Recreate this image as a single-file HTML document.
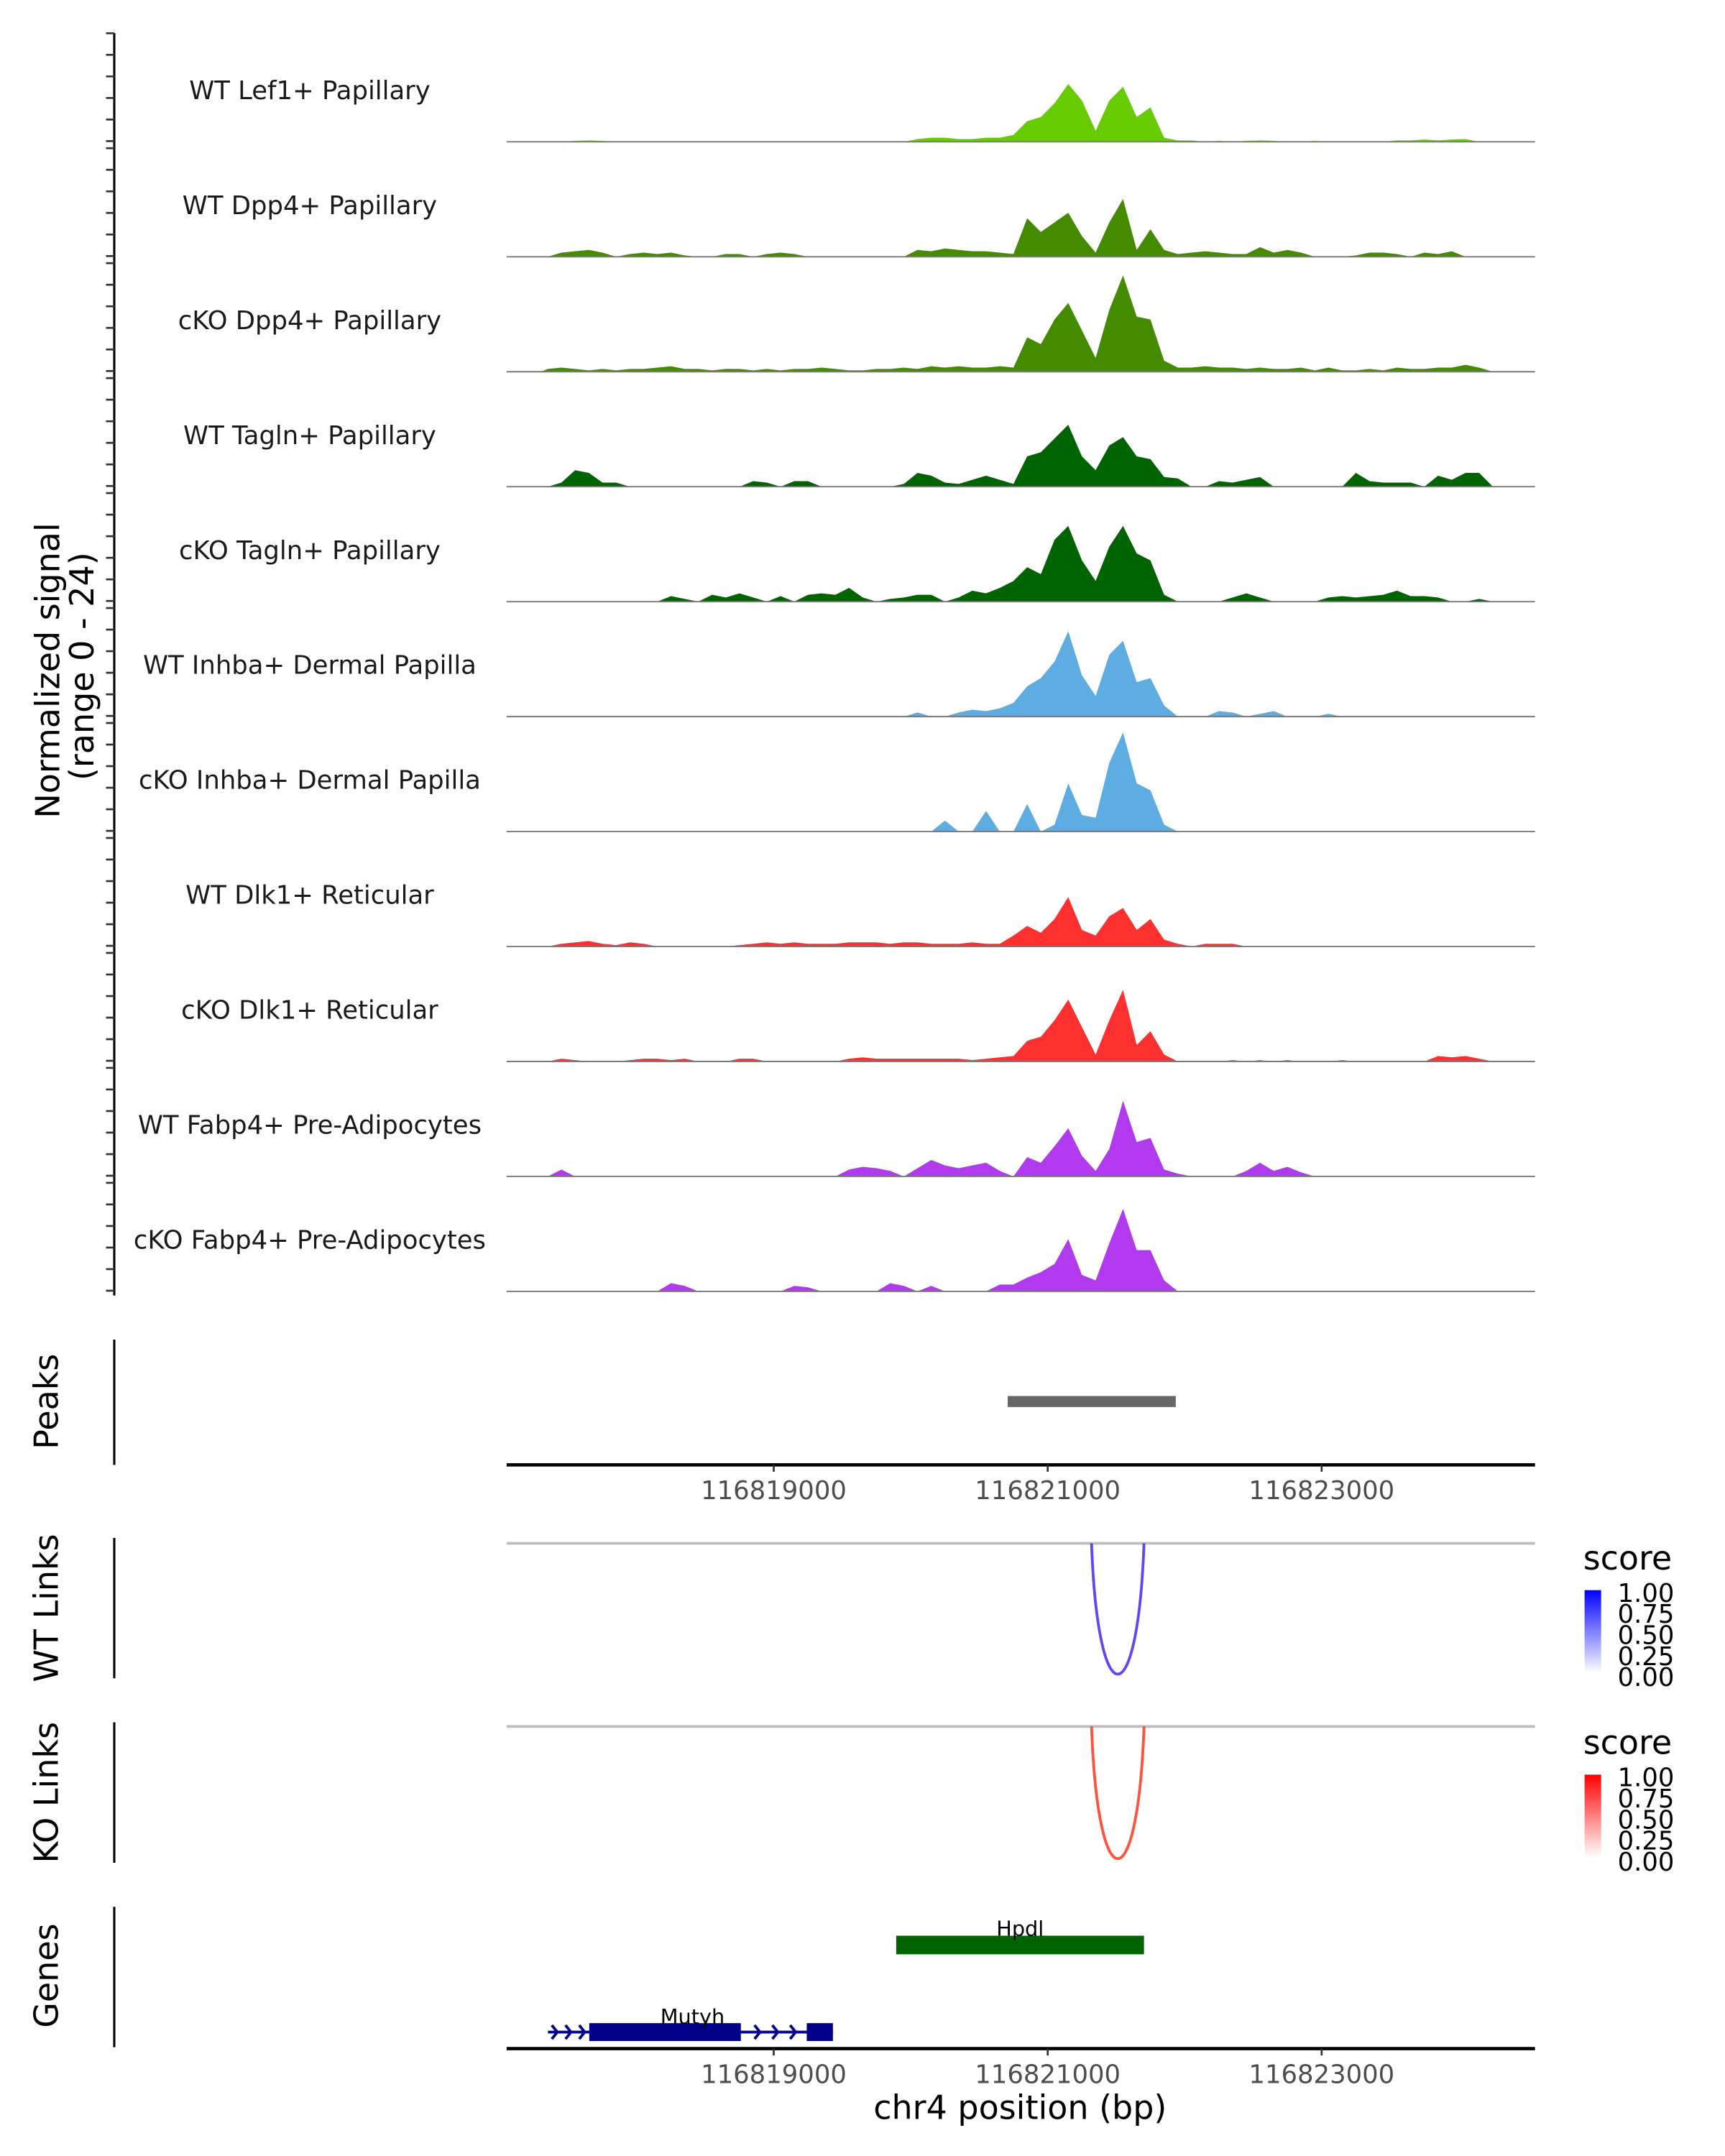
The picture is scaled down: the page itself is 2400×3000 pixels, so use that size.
<!DOCTYPE html>
<html>
<head>
<meta charset="utf-8">
<style>
html,body{margin:0;padding:0;background:#fff;}
svg{display:block;}
text{font-family:"DejaVu Sans","Liberation Sans",sans-serif;}
</style>
</head>
<body>
<svg id="chart" xmlns="http://www.w3.org/2000/svg" width="2400" height="3000" viewBox="0 0 1253 1566" preserveAspectRatio="none">
<defs>
<linearGradient id="gradWT" x1="0" y1="1" x2="0" y2="0"><stop offset="0" stop-color="#ffffff"/><stop offset="1" stop-color="#0000ff"/></linearGradient>
<linearGradient id="gradKO" x1="0" y1="1" x2="0" y2="0"><stop offset="0" stop-color="#ffffff"/><stop offset="1" stop-color="#ff0000"/></linearGradient>
</defs>
<g id="tracks"></g>
<g id="lower"></g>
</svg>
<script>
// ---- data ----
const binStart = 116817300;
const binSize = 100;
const trackNames = ["WT Lef1+ Papillary","WT Dpp4+ Papillary","cKO Dpp4+ Papillary","WT Tagln+ Papillary","cKO Tagln+ Papillary","WT Inhba+ Dermal Papilla","cKO Inhba+ Dermal Papilla","WT Dlk1+ Reticular","cKO Dlk1+ Reticular","WT Fabp4+ Pre-Adipocytes","cKO Fabp4+ Pre-Adipocytes"];
const trackColors = ["#66cc00","#458b00","#458b00","#006400","#006400","#5dade2","#5dade2","#ff3030","#ff3030","#b23aee","#b23aee"];
const sigWTLef1 = [0,0,0.2,0.3,0.2,0,0,0,0,0,0,0,0,0,0,0,0,0,0,0,0,0,0,0,0,0,0,0.6,0.9,0.9,0.6,0.6,0.9,0.9,1.5,4.5,5.4,8.4,12.6,9,2.4,9,12,5.4,7.5,0.9,0.3,0.3,0,0.2,0,0.2,0.3,0.2,0,0,0.2,0,0,0,0,0,0.3,0.3,0.5,0.3,0.5,0.6,0,0];
const sigWTDpp4 = [0,0.9,1.2,1.5,0.9,0,0.6,0.9,0.6,0.9,0.3,0,0,0.6,0.6,0,0.6,0.9,0.6,0,0,0,0,0,0,0,0,1.5,1.2,1.8,1.5,1.2,1.2,0.9,0.6,8.4,5.4,7.5,9.6,4.5,0.9,7.5,12.6,1.5,6,1.5,0.6,0.9,1.2,0.9,0.6,0.6,2.1,0.9,1.5,0.9,0,0,0,0.3,0.9,0.9,0.6,0,0.9,0.6,1.2,0,0,0];
const sigKODpp4 = [0.6,0.9,0.6,0.3,0.6,0.3,0.6,0.6,0.9,1.2,0.6,0.6,0.3,0.6,0.6,0.3,0.6,0.3,0.6,0.6,0.9,0.6,0.3,0.3,0.6,0.6,0.9,0.6,1.2,0.9,1.2,0.9,0.9,1.2,0.9,7.5,6,11.4,15,9,3,13.5,21,12,11.4,2.4,0.9,0.9,1.2,0.9,0.9,0.6,0.9,0.6,0.6,0.9,0.3,0.9,0.3,0.3,0.6,0.3,0.9,0.6,0.6,0.9,0.9,1.5,0.9,0];
const sigWTTagln = [0,0.9,3.6,3,0.9,0.9,0,0,0,0,0,0,0,0,0,1.2,0.9,0,1.2,1.2,0,0,0,0,0,0,0.6,3,2.4,0.9,0.6,1.5,2.4,1.5,0.6,6.6,7.5,10.5,13.5,6.6,3.6,9,10.8,6.6,6,2.1,1.8,0,0,1.2,0.9,1.5,2.1,0,0,0,0,0,0,3,1.2,0.9,0.9,0.9,0,2.4,1.5,3,3,0];
const sigKOTagln = [0,0,0,0,0,0,0,0,0,1.2,0.6,0,1.5,0.9,1.8,0.9,0,1.2,0,1.5,1.8,1.5,3,0.9,0,0.6,0.9,1.5,1.5,0,0.9,2.4,1.8,3,4.5,7.5,6,13.5,16.5,9,4.5,12,16.5,10.5,9,1.5,0,0,0,0,0.9,1.8,0.9,0,0,0,0,0.9,1.2,0.9,1.2,1.5,2.4,1.2,1.2,0.9,0,0,0.6,0];
const sigWTInhba = [0,0,0,0,0,0,0,0,0,0,0,0,0,0,0,0,0,0,0,0,0,0,0,0,0,0,0,0.9,0,0,0.9,1.5,1.2,1.8,3,6.6,8.4,12,18.6,9,4.5,13.5,16.5,7.5,8.4,2.4,0,0,0,1.2,0.9,0,0.6,1.2,0,0,0,0.6,0,0,0,0,0,0,0,0,0,0,0,0];
const sigKOInhba = [0,0,0,0,0,0,0,0,0,0,0,0,0,0,0,0,0,0,0,0,0,0,0,0,0,0,0,0,0,2.4,0,0,4.5,0,0,6,0,1.5,10.5,3.6,3,15,21.6,10.5,9,1.5,0,0,0,0,0,0,0,0,0,0,0,0,0,0,0,0,0,0,0,0,0,0,0,0];
const sigWTDlk1 = [0,0.6,0.9,1.2,0.6,0.3,0.9,0.6,0,0,0,0,0,0,0.3,0.6,0.9,0.6,0.9,0.6,0.6,0.6,0.9,0.9,0.9,0.6,0.9,0.9,0.6,0.6,0.6,0.9,0.6,0.6,2.4,4.5,3,6,10.8,3.6,2.4,6.6,8.4,3.6,6,1.5,0.6,0,0.6,0.6,0.6,0,0,0,0,0,0,0,0,0,0,0,0,0,0,0,0,0,0,0];
const sigKODlk1 = [0,0.6,0.3,0,0,0,0.3,0.6,0.6,0.3,0.6,0,0,0,0.6,0.6,0,0,0,0,0,0,0.6,0.9,0.6,0.6,0.6,0.6,0.6,0.6,0.6,0.3,0.6,0.9,1.2,4.5,5.4,9,13.5,7.5,1.5,9,15.6,3.6,6.6,1.5,0,0,0,0,0.3,0,0.3,0,0.3,0,0,0,0.3,0,0,0,0,0,0,1.2,0.9,1.2,0.6,0];
const sigWTFabp4 = [0,1.5,0,0,0,0,0,0,0,0,0,0,0,0,0,0,0,0,0,0,0,0,1.5,2.1,1.8,1.2,0,1.8,3.6,2.4,1.8,2.4,3,1.2,0,4.2,3,6.6,10.5,4.5,1.2,6,16.5,7.5,8.4,1.5,0.6,0,0,0,0,1.2,3,1.2,2.1,0.9,0,0,0,0,0,0,0,0,0,0,0,0,0,0];
const sigKOFabp4 = [0,0,0,0,0,0,0,0,0,1.8,1.2,0,0,0,0,0,0,0,1.2,0.9,0,0,0,0,0,1.8,1.2,0,1.2,0,0,0,0,1.5,1.5,3,4.2,6,11.4,3.6,2.4,10.5,18,9,9,2.4,0,0,0,0,0,0,0,0,0,0,0,0,0,0,0,0,0,0,0,0,0,0,0,0];
const signals = [sigWTLef1,sigWTDpp4,sigKODpp4,sigWTTagln,sigKOTagln,sigWTInhba,sigKOInhba,sigWTDlk1,sigKODlk1,sigWTFabp4,sigKOFabp4];
const peakStarts = [116820708];
const peakEnds = [116821935];
const xTicks = [116819000,116821000,116823000];
const wtLinkStart = [116821320]; const wtLinkEnd = [116821703]; const wtLinkScore = [0.8];
const koLinkStart = [116821320]; const koLinkEnd = [116821703]; const koLinkScore = [0.8];
const legendTicks = ["1.00","0.75","0.50","0.25","0.00"];
const geneNames = ["Hpdl","Mutyh"];
const geneStarts = [116819894,116817352];
const geneEnds = [116821703,116819432];
const mutyhExonStarts = [116817653,116819241];
const mutyhExonEnds = [116818760,116819432];

// ---- scales ----
const NS = "http://www.w3.org/2000/svg";
const X0 = 368, X1 = 1115, BP0 = 116817050, PXBP = 0.0995;
function xs(bp){ return X0 + (bp - BP0) * PXBP; }
const baseline0 = 103, trackStep = 83.5, trackH = 80, maxSig = 24;
function ys(v, b){ return b - v / maxSig * trackH; }
function mk(tag, attrs, parent){ const e = document.createElementNS(NS, tag); for (const k in attrs) e.setAttribute(k, attrs[k]); parent.appendChild(e); return e; }
const T = document.getElementById('tracks');
const L = document.getElementById('lower');

let ax = mk('line',{x1:83,y1:24,x2:83,y2:941,stroke:'#000','stroke-width':1.6},T);



signals.forEach((sig, t) => {
  const b = baseline0 + t * trackStep;
  for (let k = 0; k <= 5; k++) {
    const ty = b - 0.5 - k * 15.67;
    const tk = mk('line',{x1:77,y1:ty,x2:83,y2:ty,stroke:'#333','stroke-width':1.4},T);
    
    
  }
  let d = 'M' + xs(binStart).toFixed(2) + ',' + b;
  sig.forEach((v, i) => {
    d += ' L' + xs(binStart + binSize * i + binSize / 2).toFixed(2) + ',' + ys(v, b).toFixed(2);
  });
  d += ' L' + xs(binStart + binSize * sig.length).toFixed(2) + ',' + b + ' Z';
  const area = mk('path',{d:d,fill:trackColors[t],stroke:'none'},T);
  
  
  const bl = mk('line',{x1:X0,y1:b,x2:X1,y2:b,stroke:'#7a7a7a','stroke-width':1},T);
  
  
  const lab = mk('text',{x:225,y:b-31,'text-anchor':'middle','font-size':18.5,fill:'#1a1a1a'},T);
  lab.textContent = trackNames[t];
  
  
});

const yt1 = mk('text',{x:0,y:0,'text-anchor':'middle','font-size':24,fill:'#000',transform:'translate(43,487) rotate(-90)'},T);
yt1.textContent = 'Normalized signal';


const yt2 = mk('text',{x:0,y:0,'text-anchor':'middle','font-size':24,fill:'#000',transform:'translate(68,484) rotate(-90)'},T);
yt2.textContent = '(range 0 - 24)';



function panel(name, title, y0, y1, cy){
  const l = mk('line',{x1:83,y1:y0,x2:83,y2:y1,stroke:'#000','stroke-width':1.6},L);
  
  
  const tx = mk('text',{x:0,y:0,'text-anchor':'middle','font-size':24,fill:'#000',transform:'translate(42,'+cy+') rotate(-90)'},L);
  tx.textContent = title;
  
  
}
panel('peaks','Peaks',973,1064,1018);
panel('wt-links','WT Links',1117,1219,1168);
panel('ko-links','KO Links',1251,1353,1302);
panel('genes','Genes',1385,1487,1435);

peakStarts.forEach((s,i) => {
  const r = mk('rect',{x:xs(s),y:1014,width:xs(peakEnds[i])-xs(s),height:8,fill:'#666'},L);
  
  
});

function xAxis(y, name){
  const l = mk('line',{x1:X0,y1:y,x2:X1,y2:y,stroke:'#000','stroke-width':2.4},L);
  
  
  xTicks.forEach(v => {
    const tk = mk('line',{x1:xs(v),y1:y,x2:xs(v),y2:y+5,stroke:'#333','stroke-width':1.4},L);
    
    
    const tl = mk('text',{x:xs(v),y:y+25,'text-anchor':'middle','font-size':18.5,fill:'#4d4d4d'},L);
    tl.textContent = String(v);
    
    
  });
}
xAxis(1064,'peaks-x-axis');
xAxis(1488,'genes-x-axis');

function links(starts, ends, scores, base, depth, color, name){
  const g = mk('line',{x1:X0,y1:base,x2:X1,y2:base,stroke:'#bebebe','stroke-width':2},L);
  
  
  starts.forEach((s,i) => {
    const a = xs(s), b = xs(ends[i]);
    const cy = base + depth * 4 / 3;
    const p = mk('path',{d:'M'+a+','+base+' C'+(a+(b-a)*0.12)+','+cy+' '+(b-(b-a)*0.12)+','+cy+' '+b+','+base,fill:'none',stroke:color,'stroke-width':2,'stroke-opacity':0.4+0.6*scores[i]},L);
    
    
  });
}
links(wtLinkStart, wtLinkEnd, wtLinkScore, 1121, 95, '#4b2ef0', 'wt-link');
links(koLinkStart, koLinkEnd, koLinkScore, 1254, 96, '#ff3a24', 'ko-link');

function legend(top, grad, name){
  const st = mk('text',{x:1150,y:top,'font-size':24,fill:'#000'},L);
  st.textContent = 'score';
  
  
  const r = mk('rect',{x:1151,y:top+15,width:12,height:60,fill:'url(#'+grad+')'},L);
  
  
  legendTicks.forEach((t,i) => {
    const ly = top + 17 + i * 15.3;
    const tl = mk('text',{x:1175,y:ly+6.5,'font-size':18.5,fill:'#000'},L);
    tl.textContent = t;
    
    
  });
}
legend(1140,'gradWT','wt');
legend(1274,'gradKO','ko');

const hp = mk('rect',{x:xs(geneStarts[0]),y:1406,width:xs(geneEnds[0])-xs(geneStarts[0]),height:13.5,fill:'#006400'},L);


const hpl = mk('text',{x:(xs(geneStarts[0])+xs(geneEnds[0]))/2,y:1406,'text-anchor':'middle','font-size':15,fill:'#000'},L);
hpl.textContent = geneNames[0];



const mline = mk('line',{x1:xs(geneStarts[1]),y1:1476,x2:xs(geneEnds[1]),y2:1476,stroke:'#00008b','stroke-width':2},L);


mutyhExonStarts.forEach((s,i) => {
  const e = mk('rect',{x:xs(s),y:1469.5,width:xs(mutyhExonEnds[i])-xs(s),height:13,fill:'#00008b'},L);
  
  
});
[116817420,116817520,116817620,116818900,116819030,116819160].forEach(bp => {
  const cx = xs(bp);
  const c = mk('path',{d:'M'+(cx-4)+',1471 L'+cx+',1476 L'+(cx-4)+',1481',fill:'none',stroke:'#00008b','stroke-width':2},L);
  
  
});
const mul = mk('text',{x:503,y:1470,'text-anchor':'middle','font-size':15,fill:'#000'},L);
mul.textContent = geneNames[1];



const xt = mk('text',{x:741,y:1539,'text-anchor':'middle','font-size':24,fill:'#000'},L);
xt.textContent = 'chr4 position (bp)';


</script>
</body>
</html>
